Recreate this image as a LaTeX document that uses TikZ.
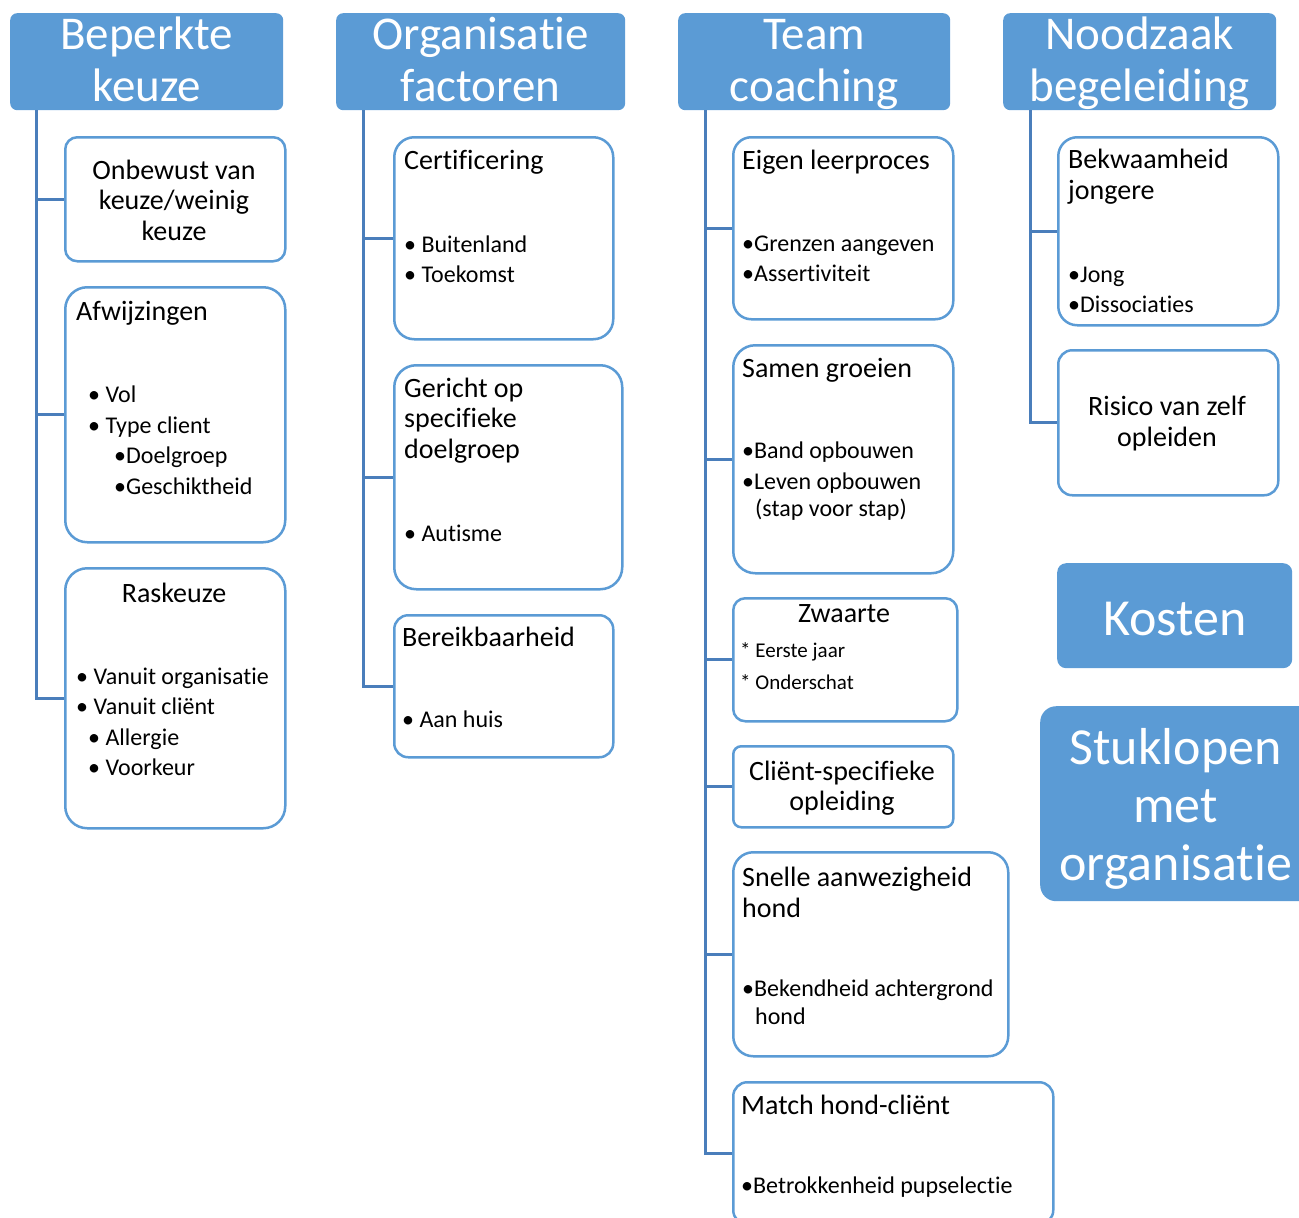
\documentclass[tikz,border=0pt]{standalone}
\usepackage{fontspec}
\setmainfont{Carlito}[Ligatures={NoCommon,NoRequired,NoContextual},RawFeature={-liga;-clig;-dlig;-calt;-rlig}]
\definecolor{hdrblue}{HTML}{5B9BD5}
\definecolor{boxblue}{HTML}{5B9BD5}
\definecolor{treeblue}{HTML}{4A7EBB}
\newcommand{\tx}{t\kern0pt i}
\begin{document}
\begin{tikzpicture}[x=1pt,y=-1pt,
 hdr/.style={fill=hdrblue, rounded corners=7, inner sep=0, anchor=north west},
 htxt/.style={inner sep=0, text=white, anchor=base, font=\fontsize{47}{50}\selectfont},
 bigbox/.style={fill=hdrblue, inner sep=0, anchor=north west},
 bigtxt/.style={inner sep=0, text=white, align=center, font=\fontsize{52}{58}\selectfont},
 cbox/.style={draw=boxblue, line width=2.5pt, fill=white, inner sep=0, anchor=north west, rounded corners=#1},
 cbox/.default=14,
 tree/.style={draw=treeblue, line width=3pt},
 ttl/.style={inner sep=0, font=\fontsize{28}{30.5}\selectfont, align=left, anchor=west, yshift=-2pt},
 ctl/.style={inner sep=0, font=\fontsize{28}{30.5}\selectfont, align=center, yshift=-2pt},
 blt/.style={inner sep=0, font=\fontsize{24}{30.5}\selectfont, align=left, anchor=west, yshift=-1.5pt},
 sml/.style={inner sep=0, font=\fontsize{21}{32}\selectfont, align=left, anchor=west, yshift=-1.5pt},
]
\useasboundingbox (0,0) rectangle (1299,1218);

% headers
\node[hdr, minimum width=273, minimum height=97] (h1) at (10,13) {};
\node[hdr, minimum width=289, minimum height=97] (h2) at (336,13) {};
\node[hdr, minimum width=272, minimum height=97] (h3) at (678,13) {};
\node[hdr, minimum width=273, minimum height=97] (h4) at (1003,13) {};
\node[htxt] (h1a) at (h1.center |- 0,49) {Beperkte};
\node[htxt] (h1b) at (h1.center |- 0,101) {keuze};
\node[htxt] (h2a) at (h2.center |- 0,49) {Organisa\tx e};
\node[htxt] (h2b) at (h2.center |- 0,101) {factoren};
\node[htxt] (h3a) at (h3.center |- 0,49) {Team};
\node[htxt] (h3b) at (h3.center |- 0,101) {coaching};
\node[htxt] (h4a) at (h4.center |- 0,49) {Noodzaak};
\node[htxt] (h4b) at (h4.center |- 0,101) {begeleiding};

\node[bigbox, rounded corners=9, minimum width=235, minimum height=105] (kosten) at (1057,563) {};
\node[bigtxt, yshift=-3pt] (kostent) at (kosten.center) {Kosten};
\node[bigbox, rounded corners=16, minimum width=275, minimum height=195] (stuk) at (1040,706) {};
\node[bigtxt, yshift=-5pt] (stukt) at ([xshift=-2pt]stuk.center) {Stuklopen\\met\\organisa\tx e};

% boxes
\node[cbox=12, minimum width=220, minimum height=124] (b11) at (64,136) {};
\node[cbox=22, minimum width=220, minimum height=255] (b12) at (64,286) {};
\node[cbox=22, minimum width=220, minimum height=260] (b13) at (64,567) {};
\node[cbox=20, minimum width=219, minimum height=202] (b21) at (393,136) {};
\node[cbox=22, minimum width=228, minimum height=224] (b22) at (393,364) {};
\node[cbox=14, minimum width=219, minimum height=142] (b23) at (393,614) {};
\node[cbox=18, minimum width=220, minimum height=182] (b31) at (732,136) {};
\node[cbox=22, minimum width=220, minimum height=228] (b32) at (732,344) {};
\node[cbox=12, minimum width=224, minimum height=123] (b33) at (732,597) {};
\node[cbox=8, minimum width=220, minimum height=81] (b34) at (732,745) {};
\node[cbox=20, minimum width=275, minimum height=204] (b35) at (732,851) {};
\node[cbox=14, minimum width=320, minimum height=142] (b36) at (732,1081) {};
\node[cbox=19, minimum width=220, minimum height=188] (b41) at (1057,136) {};
\node[cbox=14, minimum width=220, minimum height=145] (b42) at (1057,349) {};

% tree connectors
\coordinate (r1) at (36,110);
\coordinate (r2) at (363,110);
\coordinate (r3) at (705,110);
\coordinate (r4) at (1030,110);
\foreach \b in {b11,b12,b13} \draw[tree] (r1) |- (\b.west);
\foreach \b in {b21,b22,b23} \draw[tree] (r2) |- (\b.west);
\foreach \b in {b31,b32,b33,b34,b35,b36} \draw[tree] (r3) |- (\b.west);
\foreach \b in {b41,b42} \draw[tree] (r4) |- (\b.west);

% column 1 texts
\node[ctl] (t11) at (174,198) {Onbewust van\\keuze/weinig\\keuze};
\node[ttl] (t12) at (76,311) {Afwijzingen};
\node[blt] (t12b) at (88,439) {• Vol\\• Type client\\\hspace*{26pt}•Doelgroep\\\hspace*{26pt}•Geschiktheid};
\node[ctl] (t13) at (174,591) {Raskeuze};
\node[blt] (t13b) at (76,720.5) {• Vanuit organisa\tx e\\• Vanuit cliënt\\\hspace*{12pt}• Allergie\\\hspace*{12pt}• Voorkeur};

% column 2 texts
\node[ttl] (t21) at (404,160) {Certificering};
\node[blt] (t21b) at (404,258) {• Buitenland\\• Toekomst};
\node[ttl] (t22) at (404,418.5) {Gericht op\\specifieke\\doelgroep};
\node[blt] (t22b) at (404,532) {• Au\tx sme};
\node[ttl] (t23) at (402,635) {Bereikbaarheid};
\node[blt] (t23b) at (402,718) {• Aan huis};

% column 3 texts
\node[ttl] (t31) at (742,160) {Eigen leerproces};
\node[blt] (t31b) at (742,257.5) {•Grenzen aangeven\\•Asser\tx viteit};
\node[ttl] (t32) at (742,368) {Samen groeien};
\node[blt] (t32b) at (742,466) {•Band opbouwen\\•Leven opbouwen};
\node[blt] (t32c) at (755,508) {(stap voor stap)};
\node[ctl] (t33) at (844,612) {Zwaarte};
\node[sml] (t33b) at (740,665) {* Eerste jaar\\* Onderschat};
\node[ctl] (t34) at (842,786) {Cliënt-specifieke\\opleiding};
\node[ttl] (t35) at (742,890.5) {Snelle aanwezigheid\\hond};
\node[blt] (t35b) at (742,989) {•Bekendheid achtergrond};
\node[blt] (t35c) at (755,1015) {hond};
\node[ttl] (t36) at (741,1103) {Match hond-cliënt};
\node[blt] (t36b) at (741,1186) {•Betrokkenheid pupselec\tx e};

% column 4 texts
\node[ttl] (t41) at (1068,174.5) {Bekwaamheid\\jongere};
\node[blt] (t41b) at (1068,288.5) {•Jong\\•Dissocia\tx es};
\node[ctl] (t42) at (1167,421.5) {Risico van zelf\\opleiden};
\end{tikzpicture}
\end{document}
